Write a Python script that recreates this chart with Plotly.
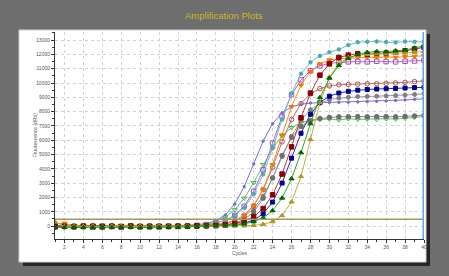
import plotly.graph_objects as go

cycles = list(range(1, 41))

slate_blue = [40, 10, -20, 30, 0, -10, 20, -30, 10, 0, 20, -10, 10, 30, 50, 90, 180, 380, 780, 1540,
              2760, 4350, 5940, 7160, 7920, 8320, 8520, 8600, 8620, 8640, 8650, 8660, 8680, 8700, 8720, 8740, 8780, 8820, 8860, 8900]
light_green = [60, -20, 10, 40, -30, 20, 0, -40, 30, 10, -20, 20, 0, 40, 30, 90, 175, 335, 630, 1140,
               1950, 3040, 4300, 5450, 6320, 6880, 7220, 7380, 7450, 7480, 7420, 7500, 7460, 7480, 7450, 7500, 7480, 7520, 7600, 7650]
purple = [-60, 20, -40, -10, -80, 10, -30, -90, 0, -50, -20, -70, 0, -30, 10, 55, 110, 210, 400, 750,
          1380, 2430, 3930, 5800, 7670, 9180, 10220, 10850, 11200, 11380, 11450, 11480, 11500, 11480, 11520, 11500, 11480, 11520, 11540, 11580]
teal = [20, -10, 30, 0, -20, 10, 40, -10, 20, 0, 30, -20, 10, 20, 40, 65, 117, 215, 400, 730,
        1290, 2240, 3620, 5450, 7450, 9280, 10650, 11450, 11900, 12150, 12350, 12650, 12850, 12880, 12900, 12860, 12840, 12900, 12880, 12870]
orange = [180, 200, 40, 20, 50, 30, 10, 40, 60, 20, 40, 10, 30, 20, 10, 20, 45, 90, 190, 370,
          740, 1420, 2570, 4300, 6370, 8350, 9850, 10800, 11340, 11610, 11700, 11750, 11780, 11800, 11780, 11820, 11800, 11840, 11860, 11900]
indian_red = [-80, -40, -60, -20, -50, -70, -30, -60, -20, -40, -10, -50, -30, -10, 0, 23, 47, 96, 190, 390,
              760, 1430, 2550, 4110, 5890, 7450, 8570, 9240, 9610, 9800, 9880, 9900, 9920, 9950, 9950, 9980, 10000, 10050, 10100, 10150]
gray = [-20, 30, 0, -30, 20, -10, 10, -20, 30, 0, -10, 20, 0, 10, 20, 30, 50, 97, 190, 360,
        670, 1220, 2100, 3370, 4850, 6280, 7400, 8140, 8580, 8830, 8950, 9000, 9050, 9060, 9080, 9100, 9120, 9160, 9200, 9250]
dark_gray = [-40, -60, -20, -50, -30, -10, -40, -20, -50, -30, -40, -10, -30, -20, 0, 5, 17, 40, 92, 210,
             465, 985, 1950, 3370, 4940, 6200, 6970, 7360, 7520, 7600, 7640, 7650, 7660, 7640, 7650, 7660, 7640, 7680, 7700, 7750]
maroon = [-30, -10, -40, 0, -20, -50, -10, -30, 0, -20, -40, -10, -30, 0, -10, 10, 25, 49, 94, 180,
          350, 660, 1230, 2190, 3640, 5540, 7570, 9300, 10550, 11340, 11790, 11950, 12050, 12000, 12080, 12100, 12150, 12250, 12380, 12500]
navy = [0, -20, -10, -30, 0, -20, -10, -30, -10, -20, 0, -30, -10, -20, 0, 5, 12, 20, 44, 94,
        200, 420, 860, 1680, 3010, 4750, 6490, 7820, 8640, 9080, 9300, 9420, 9500, 9550, 9580, 9600, 9620, 9650, 9680, 9700]
dark_green = [-70, -90, -60, -100, -80, -70, -90, -60, -80, -100, -70, -80, -60, -70, -50, -20, 10, 25, 43, 82,
              160, 305, 580, 1080, 1960, 3310, 5140, 7160, 8990, 10340, 11220, 11720, 12000, 12150, 12200, 12180, 12250, 12300, 12450, 12600]
olive = [300, -30, 10, -20, 0, -40, -10, 10, -30, 0, -20, 10, -10, -30, 0, -10, 0, 5, 8, 12,
         21, 52, 127, 310, 740, 1690, 3470, 6050, 8630, 10410, 11360, 11790, 11950, 12000, 12050, 12050, 12080, 12100, 12150, 12200]

threshold = 480
y_ticks = list(range(0, 14000, 1000))
x_ticks = list(range(2, 41, 2))

series = [
    ("slate_blue", slate_blue, "#7272d6", "#7272d6", "circle", 2.5),
    ("light_green", light_green, "#62c462", "#4fb04f", "triangle-down-open", 4.5),
    ("gray", gray, "#9a9a9a", "#808080", "circle", 4),
    ("dark_gray", dark_gray, "#8a8a8a", "#6f6f6f", "circle", 4.5),
    ("indian_red", indian_red, "#c46a6a", "#b05050", "circle-open", 4.5),
    ("purple", purple, "#b864d2", "#a64cc4", "square-open", 4.5),
    ("teal", teal, "#62c0c0", "#4aacac", "circle", 3.5),
    ("orange", orange, "#ff8c1a", "#f07800", "triangle-down", 4.5),
    ("navy", navy, "#2828a8", "#00008b", "square", 4),
    ("maroon", maroon, "#b03a3a", "#8b0000", "square", 4.5),
    ("olive", olive, "#c0b040", "#a89a20", "triangle-up", 4.5),
    ("dark_green", dark_green, "#34a034", "#006400", "triangle-up", 4.5),
]

fig = go.Figure()
for name, vals, lc, mc, sym, ms in series:
    fig.add_trace(go.Scatter(
        x=cycles, y=vals, mode="lines+markers", name=name,
        line=dict(color=lc, width=1),
        marker=dict(symbol=sym, size=ms, color=mc, line=dict(color=mc, width=1)),
    ))

L, R, T, B = 55, 25, 32, 37
W, H = 449, 276
pw, ph = W - L - R, H - T - B


def px(xp):
    return (xp - L) / pw


def py(yp):
    return (H - B - yp) / ph


shapes = [
    dict(type="rect", xref="paper", yref="paper", x0=px(23), x1=px(430), y0=py(266), y1=py(34),
         fillcolor="#262626", line=dict(width=0), layer="below"),
    dict(type="rect", xref="paper", yref="paper", x0=px(19), x1=px(426), y0=py(262), y1=py(30),
         fillcolor="white", line=dict(color="#d0d0d0", width=1), layer="below"),
    dict(type="line", xref="x", yref="y", x0=1, x1=40, y0=threshold, y1=threshold,
         line=dict(color="#9c9c5c", width=1.5)),
    dict(type="line", xref="x", yref="paper", x0=40, x1=40, y0=0, y1=1,
         line=dict(color="#5aa8f2", width=3)),
]

font_family = "Liberation Sans, Arial, sans-serif"

fig.update_layout(
    width=W, height=H,
    margin=dict(l=L, r=R, t=T, b=B, pad=0),
    paper_bgcolor="#6e6e6e",
    plot_bgcolor="white",
    showlegend=False,
    shapes=shapes,
    font=dict(family=font_family, size=5, color="#555555"),
    annotations=[
        dict(text="Amplification Plots", xref="paper", yref="paper", x=px(224), y=py(15),
             showarrow=False, font=dict(size=9.5, color="#cdb81e", family=font_family),
             xanchor="center", yanchor="middle"),
        dict(text="Fluorescence (dRn)", xref="paper", yref="paper", x=px(35), y=py(135),
             showarrow=False, textangle=-90, font=dict(size=5, color="#555555"),
             xanchor="center", yanchor="middle"),
        dict(text="Cycles", xref="paper", yref="paper", x=px(240), y=py(253),
             showarrow=False, font=dict(size=5, color="#555555"),
             xanchor="center", yanchor="middle"),
    ],
)

fig.update_xaxes(
    range=[1, 40], tickvals=x_ticks, ticktext=[str(v) for v in x_ticks],
    showline=True, linecolor="#333333", linewidth=1,
    ticks="outside", ticklen=3, tickcolor="#333333",
    showgrid=True, gridcolor="#d2d2d2", griddash="dot", gridwidth=1,
    zeroline=False, tickfont=dict(size=5, color="#555555"),
    minor=dict(dtick=1, tick0=0, ticks="outside", ticklen=2, tickcolor="#333333", showgrid=False),
)
fig.update_yaxes(
    range=[-900, 13566], tickvals=y_ticks, ticktext=[str(v) for v in y_ticks],
    showline=True, linecolor="#333333", linewidth=1,
    ticks="outside", ticklen=3, tickcolor="#333333",
    showgrid=True, gridcolor="#d2d2d2", griddash="dot", gridwidth=1,
    zeroline=False, tickfont=dict(size=5, color="#555555"),
    minor=dict(dtick=500, tick0=0, ticks="outside", ticklen=2, tickcolor="#333333", showgrid=False),
)

fig.write_html(
    "out.html",
    config={"displayModeBar": False},
    post_script="document.body.style.margin='0';document.body.style.padding='0';document.body.style.background='#6e6e6e';",
)
